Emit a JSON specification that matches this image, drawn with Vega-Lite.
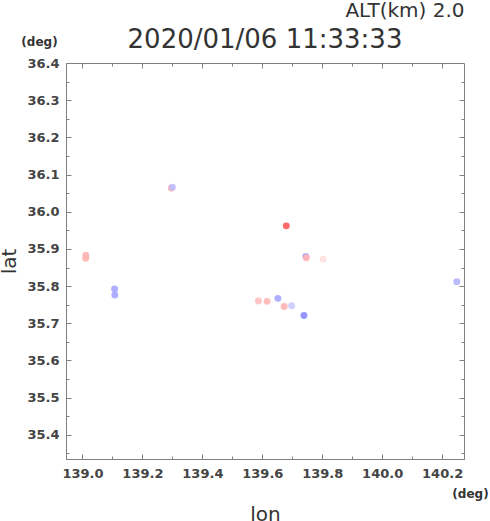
{
  "$schema": "https://vega.github.io/schema/vega-lite/v6.json",
  "width": 398,
  "height": 396,
  "autosize": "none",
  "padding": {"left": 66, "top": 63, "right": 26, "bottom": 62},
  "background": "white",
  "config": {"view": {"stroke": "#808080", "strokeWidth": 1}, "font": "DejaVu Sans"},
  "title": {"text": "2020/01/06 11:33:33", "fontSize": 26, "fontWeight": "normal", "color": "#333333", "anchor": "middle", "offset": 12, "dy": 65, "font": "DejaVu Sans"},
  "data": {"values": [
    {"lon": 139.011, "lat": 35.883, "v": 0.3},
    {"lon": 139.011, "lat": 35.875, "v": 0.3},
    {"lon": 139.297, "lat": 36.064, "v": 0.35},
    {"lon": 139.300, "lat": 36.066, "v": -0.25},
    {"lon": 139.107, "lat": 35.792, "v": -0.35},
    {"lon": 139.108, "lat": 35.776, "v": -0.35},
    {"lon": 139.680, "lat": 35.962, "v": 0.65},
    {"lon": 139.745, "lat": 35.880, "v": -0.35},
    {"lon": 139.747, "lat": 35.876, "v": 0.3},
    {"lon": 139.803, "lat": 35.872, "v": 0.12},
    {"lon": 139.587, "lat": 35.760, "v": 0.25},
    {"lon": 139.616, "lat": 35.759, "v": 0.28},
    {"lon": 139.652, "lat": 35.767, "v": -0.35},
    {"lon": 139.673, "lat": 35.745, "v": 0.3},
    {"lon": 139.698, "lat": 35.747, "v": -0.2},
    {"lon": 139.739, "lat": 35.721, "v": -0.45},
    {"lon": 140.249, "lat": 35.812, "v": -0.3}
  ]},
  "resolve": {"scale": {"x": "independent", "y": "independent"}},
  "layer": [
    {
      "mark": {"type": "point", "filled": true, "size": 48, "opacity": 0.9},
      "encoding": {
        "x": {"field": "lon", "type": "quantitative",
          "scale": {"domain": [138.945, 140.273], "nice": false, "zero": false},
          "axis": {"values": [139.0, 139.2, 139.4, 139.6, 139.8, 140.0, 140.2],
            "format": ".1f", "ticks": false,
            "domainColor": "#808080", "grid": false,
            "labelFont": "DejaVu Sans", "labelFontWeight": "bold", "labelFontSize": 13, "labelColor": "#444444", "labelPadding": 8,
            "title": "lon", "titleFont": "DejaVu Sans", "titleFontSize": 20, "titleFontWeight": "normal", "titleColor": "#333333", "titlePadding": 24}},
        "y": {"field": "lat", "type": "quantitative",
          "scale": {"domain": [35.335, 36.4], "nice": false, "zero": false},
          "axis": {"values": [35.4, 35.5, 35.6, 35.7, 35.8, 35.9, 36.0, 36.1, 36.2, 36.3, 36.4],
            "format": ".1f", "ticks": false,
            "domainColor": "#808080", "grid": false,
            "labelFont": "DejaVu Sans", "labelFontWeight": "bold", "labelFontSize": 13, "labelColor": "#444444", "labelPadding": 7,
            "title": "lat", "titleFont": "DejaVu Sans", "titleFontSize": 20, "titleFontWeight": "normal", "titleColor": "#333333", "titlePadding": 7}},
        "color": {"field": "v", "type": "quantitative",
          "scale": {"domain": [-1, 0, 1], "range": ["#0000ff", "#ffffff", "#ff0000"], "interpolate": "rgb"}, "legend": null}
      }
    },
    {
      "mark": {"type": "point", "opacity": 0},
      "encoding": {
        "x": {"field": "lon", "type": "quantitative",
          "scale": {"domain": [138.945, 140.273], "nice": false, "zero": false},
          "axis": {"orient": "top", "offset": -5, "values": [139.0, 139.1, 139.2, 139.3, 139.4, 139.5, 139.6, 139.7, 139.8, 139.9, 140.0, 140.1, 140.2],
            "labels": false, "domain": false, "ticks": true, "tickSize": 5, "tickColor": "#808080",
            "tickDash": {"condition": {"test": "round(datum.value*10) % 2 == 0", "value": []}, "value": [3, 2]},
            "tickDashOffset": {"condition": {"test": "round(datum.value*10) % 2 == 0", "value": 0}, "value": 3},
            "grid": false,
            "title": "ALT(km) 2.0", "titleFont": "DejaVu Sans", "titleFontSize": 20, "titleFontWeight": "normal", "titleColor": "#333333",
            "titleX": 398, "titleY": -52, "titleAlign": "right", "titleBaseline": "alphabetic", "titleAnchor": null}},
        "y": {"field": "lat", "type": "quantitative",
          "scale": {"domain": [35.335, 36.4], "nice": false, "zero": false},
          "axis": {"orient": "right", "offset": -5, "values": [35.35, 35.4, 35.45, 35.5, 35.55, 35.6, 35.65, 35.7, 35.75, 35.8, 35.85, 35.9, 35.95, 36.0, 36.05, 36.1, 36.15, 36.2, 36.25, 36.3, 36.35],
            "labels": false, "domain": false, "ticks": true, "tickSize": 5, "tickColor": "#808080",
            "tickDash": {"condition": {"test": "round(datum.value*100) % 10 == 0", "value": []}, "value": [3, 2]},
            "tickDashOffset": {"condition": {"test": "round(datum.value*100) % 10 == 0", "value": 0}, "value": 3},
            "grid": false,
            "title": "(deg)", "titleFont": "DejaVu Sans", "titleFontSize": 12, "titleFontWeight": "bold", "titleColor": "#333333",
            "titleAngle": 0, "titleX": -420, "titleY": -18, "titleAlign": "center", "titleBaseline": "alphabetic"}}
      }
    },
    {
      "mark": {"type": "point", "opacity": 0},
      "encoding": {
        "x": {"field": "lon", "type": "quantitative",
          "scale": {"domain": [138.945, 140.273], "nice": false, "zero": false},
          "axis": {"orient": "bottom", "offset": -5, "values": [139.0, 139.1, 139.2, 139.3, 139.4, 139.5, 139.6, 139.7, 139.8, 139.9, 140.0, 140.1, 140.2],
            "labels": false, "domain": false, "ticks": true, "tickSize": 5, "tickColor": "#808080",
            "tickDash": {"condition": {"test": "round(datum.value*10) % 2 == 0", "value": []}, "value": [3, 2]},
            "tickDashOffset": {"condition": {"test": "round(datum.value*10) % 2 == 0", "value": 0}, "value": 3},
            "grid": false,
            "title": "(deg)", "titleFont": "DejaVu Sans", "titleFontSize": 12, "titleFontWeight": "bold", "titleColor": "#333333",
            "titleX": 404, "titleY": 43, "titleAlign": "center", "titleBaseline": "alphabetic"}},
        "y": {"field": "lat", "type": "quantitative",
          "scale": {"domain": [35.335, 36.4], "nice": false, "zero": false},
          "axis": {"orient": "left", "offset": -5, "values": [35.35, 35.4, 35.45, 35.5, 35.55, 35.6, 35.65, 35.7, 35.75, 35.8, 35.85, 35.9, 35.95, 36.0, 36.05, 36.1, 36.15, 36.2, 36.25, 36.3, 36.35],
            "labels": false, "domain": false, "ticks": true, "tickSize": 5, "tickColor": "#808080",
            "tickDash": {"condition": {"test": "round(datum.value*100) % 10 == 0", "value": []}, "value": [3, 2]},
            "tickDashOffset": {"condition": {"test": "round(datum.value*100) % 10 == 0", "value": 0}, "value": 3},
            "grid": false, "title": null}}
      }
    }
  ]
}
